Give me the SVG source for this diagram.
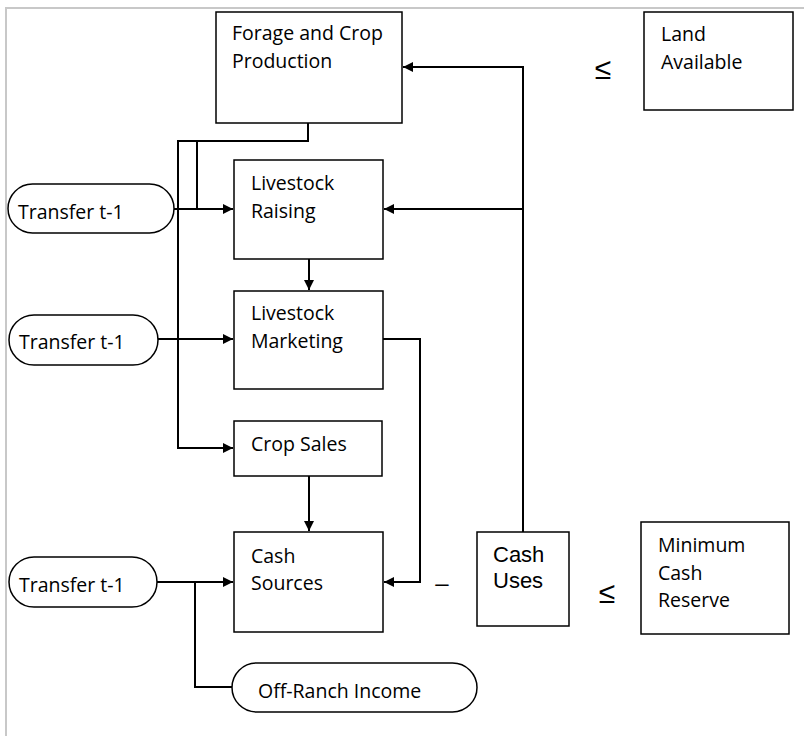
<svg xmlns="http://www.w3.org/2000/svg" width="804" height="736" viewBox="0 0 804 736">
<style>
.box{fill:#fff;stroke:#000;stroke-width:1.5}
.t{font-family:"Open Sans","Noto Sans",sans-serif;font-size:19.5px;fill:#000}
.a{font-family:"Liberation Sans",Arial,sans-serif;fill:#000}
.c{fill:none;stroke:#000;stroke-width:2}
</style>
<defs>
<marker id="ah" viewBox="0 0 10 10" refX="10" refY="5" markerWidth="10" markerHeight="10" markerUnits="userSpaceOnUse" orient="auto">
<path d="M0,0 L10,5 L0,10 z" fill="#000"/>
</marker>
</defs>
<rect width="804" height="736" fill="#fff"/>
<path d="M6,736 V8 H804" fill="none" stroke="#c8c8c8" stroke-width="2"/>
<g id="connectors">
<path class="c" d="M308,123 V141 H178 V448 H233" marker-end="url(#ah)"/>
<path class="c" d="M197,141 V209"/>
<path class="c" d="M174,209 H233" marker-end="url(#ah)"/>
<path class="c" d="M158,339 H233" marker-end="url(#ah)"/>
<path class="c" d="M309,259 V290" marker-end="url(#ah)"/>
<path class="c" d="M309,476 V531" marker-end="url(#ah)"/>
<path class="c" d="M383,339 H420 V582 H384" marker-end="url(#ah)"/>
<path class="c" d="M157,582 H233" marker-end="url(#ah)"/>
<path class="c" d="M195,582 V687 H232"/>
<path class="c" d="M523,532 V67 H403" marker-end="url(#ah)"/>
<path class="c" d="M523,209 H384" marker-end="url(#ah)"/>
</g>
<g id="forage">
<rect class="box" x="216" y="12" width="186" height="111"/>
<text class="t" x="232" y="40">Forage and Crop</text>
<text class="t" x="232" y="68">Production</text>
</g>
<g id="land">
<rect class="box" x="644" y="12" width="149" height="98"/>
<text class="t" x="661" y="41">Land</text>
<text class="t" x="661" y="69">Available</text>
</g>
<text class="a" x="603" y="79" font-size="30" text-anchor="middle">≤</text>
<g id="raising">
<rect class="box" x="234" y="160" width="149" height="99"/>
<text class="t" x="251" y="190">Livestock</text>
<text class="t" x="251" y="218">Raising</text>
</g>
<g id="transfer1">
<rect class="box" x="8" y="184" width="166" height="49" rx="24.5"/>
<text class="t" x="18" y="219">Transfer t-1</text>
</g>
<g id="marketing">
<rect class="box" x="234" y="291" width="149" height="98"/>
<text class="t" x="251" y="320">Livestock</text>
<text class="t" x="251" y="348">Marketing</text>
</g>
<g id="transfer2">
<rect class="box" x="9" y="315" width="149" height="50" rx="25"/>
<text class="t" x="19" y="349">Transfer t-1</text>
</g>
<g id="cropsales">
<rect class="box" x="234" y="421" width="148" height="55"/>
<text class="t" x="251" y="451">Crop Sales</text>
</g>
<g id="cashsources">
<rect class="box" x="234" y="532" width="149" height="100"/>
<text class="t" x="251" y="563">Cash</text>
<text class="t" x="251" y="590">Sources</text>
</g>
<g id="transfer3">
<rect class="box" x="9" y="557" width="148" height="50" rx="25"/>
<text class="t" x="19" y="592">Transfer t-1</text>
</g>
<g id="offranch">
<rect class="box" x="232" y="663" width="245" height="49" rx="24.5"/>
<text class="t" x="258" y="698">Off-Ranch Income</text>
</g>
<text class="a" x="442" y="591" font-size="24" text-anchor="middle">–</text>
<g id="cashuses">
<rect class="box" x="477" y="532" width="92" height="94"/>
<text class="a" x="493" y="562" font-size="22">Cash</text>
<text class="a" x="493" y="588" font-size="22">Uses</text>
</g>
<text class="a" x="607" y="603" font-size="30" text-anchor="middle">≤</text>
<g id="reserve">
<rect class="box" x="641" y="522" width="148" height="112"/>
<text class="t" x="658" y="552">Minimum</text>
<text class="t" x="658" y="580">Cash</text>
<text class="t" x="658" y="607">Reserve</text>
</g>
</svg>
